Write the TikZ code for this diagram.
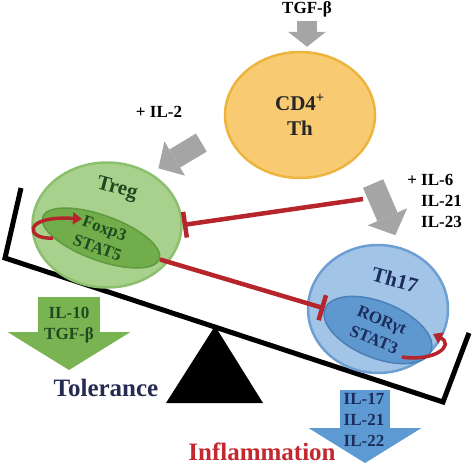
\documentclass[tikz,border=0pt]{standalone}
\usepackage{fontspec}
\setmainfont{Liberation Serif}
\usetikzlibrary{arrows.meta,shapes.geometric}
\definecolor{cdfill}{HTML}{F8CB72}
\definecolor{cdline}{HTML}{EDB440}
\definecolor{tregfill}{HTML}{A9D18E}
\definecolor{tregline}{HTML}{8CBF6E}
\definecolor{foxfill}{HTML}{72AD4C}
\definecolor{foxline}{HTML}{5F9A3E}
\definecolor{thfill}{HTML}{A2C4E6}
\definecolor{thline}{HTML}{6E9FD2}
\definecolor{rorfill}{HTML}{5F97CF}
\definecolor{rorline}{HTML}{4A80B8}
\definecolor{inhred}{HTML}{B5252B}
\definecolor{arrgray}{HTML}{A5A5A5}
\definecolor{arrgreen}{HTML}{7AB351}
\definecolor{arrblue}{HTML}{5D9AD3}
\definecolor{darkgreen}{HTML}{1F4A1F}
\definecolor{navy}{HTML}{1B2D5C}
\definecolor{tolnavy}{HTML}{262B52}
\definecolor{inflred}{HTML}{C2282E}

\begin{document}
\begin{tikzpicture}[x=1pt,y=-1pt,
  cell/.style={draw,ellipse,line width=2.5pt,inner sep=0pt},
  core/.style={draw,ellipse,line width=1.5pt,inner sep=0pt,rotate=#1},
  txt/.style={inner sep=0pt,align=center,font=\bfseries\fontsize{17}{21}\selectfont},
  bigtxt/.style={inner sep=0pt,align=center,font=\bfseries\fontsize{21}{25}\selectfont},
  blockarr/.style n args={3}{line width=#1,-{Triangle[length=#2,width=#3,line width=0pt 0 0]}},
  inhib/.style={draw=inhred,line width=4.5pt,-{Bar[width=26pt]}},
  selfloop/.style={draw=inhred,line width=3.5pt,-{Triangle[length=9pt,width=12pt]}}]
  \useasboundingbox (0,0) rectangle (474,466);
  % balance
  \draw[line width=5pt] (21,188) -- (5,258) -- (443,402) -- (469,333);
  \fill (215,326) -- (166,403) -- (263,403) -- cycle;
  % cells
  \node[cell,fill=cdfill,draw=cdline,minimum width=150pt,minimum height=126pt,bigtxt,text=black!85] (cd4) at (300,115) {CD4\textsuperscript{+}\\Th};
  \node[cell,fill=tregfill,draw=tregline,minimum width=149pt,minimum height=125pt] (treg) at (107,225) {};
  \node[bigtxt,rotate=-15,text=darkgreen] (treglbl) at (117,189) {Treg};
  \node[core=-20,fill=foxfill,draw=foxline,minimum width=124pt,minimum height=45pt] (fox) at (101,238) {};
  \node[txt,rotate=-20,text=darkgreen] (foxlbl) at (fox) {Foxp3\\STAT5};
  \node[cell,fill=thfill,draw=thline,minimum width=140pt,minimum height=128pt] (th17) at (378,309) {};
  \node[bigtxt,rotate=-15,text=navy] (th17lbl) at (395,280) {Th17};
  \node[core=-22,fill=rorfill,draw=rorline,minimum width=114pt,minimum height=56pt] (ror) at (378,330) {};
  \node[txt,rotate=-22,text=navy] (rorlbl) at (ror) {RORγt\\STAT3};
  % differentiation
  \node[txt] (tgf) at (307,9) {TGF-β};
  \draw[arrgray,blockarr={20pt}{15pt}{38pt},shorten <=4pt,shorten >=4pt] (tgf.south) -- (tgf.south |- cd4.north);
  \node[txt] (il2) at (159,112) {+ IL-2};
  \draw[arrgray,blockarr={21pt}{19pt}{40pt},shorten <=28pt,shorten >=9pt] (cd4.190) -- (treg.50);
  \node[txt,align=left,anchor=west] (il6) at (421,201) {\llap{+ }IL-6\\IL-21\\IL-23};
  \draw[arrgray,blockarr={22pt}{20pt}{43pt},shorten <=32pt,shorten >=13pt] (cd4.-33) -- (th17.70);
  % inhibition
  \coordinate (sig) at (363,199);
  \draw[inhib] (sig) -- (treg.east);
  \draw[inhib] (fox.east) -- (ror.west);
  \draw[selfloop] ([xshift=-48pt]fox.center) .. controls +(-28,2) and +(-60,-4) .. ([xshift=-19pt,yshift=19pt]fox.center);
  \draw[selfloop] ([xshift=24pt,yshift=-27pt]ror.center) .. controls +(33,5) and +(22,11) .. ([xshift=55pt,yshift=-4pt]ror.center);
  % outputs
  \draw[arrgreen,blockarr={62pt}{38pt}{123pt}] (69,297) -- (69,370);
  \node[txt,text=darkgreen] (il10) at (69,325) {IL-10\\TGF-β};
  \draw[arrblue,blockarr={50pt}{35pt}{113pt}] (365,390) -- (365,463);
  \node[txt,text=navy] (il17) at (364,420) {IL-17\\IL-21\\IL-22};
  \node[inner sep=0pt,font=\bfseries\fontsize{25}{30}\selectfont,text=tolnavy] (tol) at (106,388) {Tolerance};
  \node[inner sep=0pt,font=\bfseries\fontsize{25}{30}\selectfont,text=inflred] (infl) at (262,452) {Inflammation};
\end{tikzpicture}
\end{document}
